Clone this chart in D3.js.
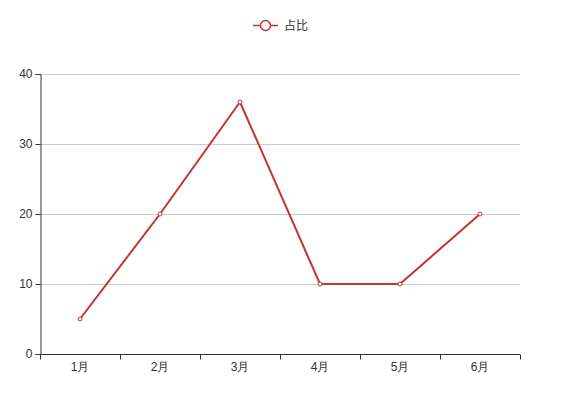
<!DOCTYPE html>
<html><head><meta charset="utf-8">
<script src="https://cdn.jsdelivr.net/npm/d3@7"></script>
<style>body{margin:0;background:#fff;}svg{display:block;font-family:"Microsoft YaHei","Noto Sans CJK SC",sans-serif;}</style>
</head><body>
<script>
const categories = ["1月","2月","3月","4月","5月","6月"];
const values = [5,20,36,10,10,20];
const yTicks = [0,10,20,30,40];
const seriesName = "占比";

const W=578,H=417, L=40,R=520,T=74,B=354;
const color="#c23531";
const svg=d3.select("body").append("svg").attr("width",W).attr("height",H);
const x=d3.scaleBand().domain(categories).range([L,R]);
const y=d3.scaleLinear().domain([0,40]).range([B,T]);

// grid
svg.append("g").selectAll("line").data(yTicks.filter(d=>d>0)).join("line")
 .attr("x1",L).attr("x2",R).attr("y1",d=>Math.round(y(d))+0.5).attr("y2",d=>Math.round(y(d))+0.5)
 .attr("stroke","#ccc").attr("stroke-width",1);

// y axis
const ya=svg.append("g").attr("transform",`translate(${L+0.5},0)`)
 .call(d3.axisLeft(y).tickValues(yTicks).tickSize(5).tickPadding(3));
ya.select(".domain").attr("stroke","#333");
ya.selectAll(".tick line").attr("stroke","#333");
ya.selectAll("text").attr("fill","#333").style("font-size","12px").style("font-family","inherit");

// x axis
const xa=svg.append("g").attr("transform",`translate(0,${B+0.5})`)
 .call(d3.axisBottom(x).tickSize(0).tickPadding(8));
xa.select(".domain").attr("stroke","#333").attr("d",`M${L},0H${R}`);
xa.selectAll("text").attr("fill","#333").style("font-size","12px").style("font-family","inherit");
xa.append("g").selectAll("line").data(d3.range(categories.length+1)).join("line")
 .attr("x1",i=>Math.round(L+i*x.step())+0.5).attr("x2",i=>Math.round(L+i*x.step())+0.5)
 .attr("y1",0).attr("y2",5).attr("stroke","#333");

// line
const cx=d=>x(d)+x.bandwidth()/2;
svg.append("path").datum(values)
 .attr("d",d3.line().x((d,i)=>cx(categories[i])).y(d=>y(d)))
 .attr("fill","none").attr("stroke",color).attr("stroke-width",2).attr("stroke-linejoin","bevel");
svg.append("g").selectAll("circle").data(values).join("circle")
 .attr("cx",(d,i)=>cx(categories[i])).attr("cy",d=>y(d)).attr("r",2)
 .attr("fill","#fff").attr("stroke",color).attr("stroke-width",1);

// legend
const lg=svg.append("g");
lg.append("line").attr("x1",253).attr("x2",278).attr("y1",25.5).attr("y2",25.5).attr("stroke",color).attr("stroke-width",1.5);
lg.append("circle").attr("cx",265.5).attr("cy",25.5).attr("r",5).attr("fill","#fff").attr("stroke",color).attr("stroke-width",1.5);
lg.append("text").attr("x",284).attr("y",25.5).attr("dy","0.35em").attr("fill","#333").style("font-size","12px").text(seriesName);
</script>
</body></html>
